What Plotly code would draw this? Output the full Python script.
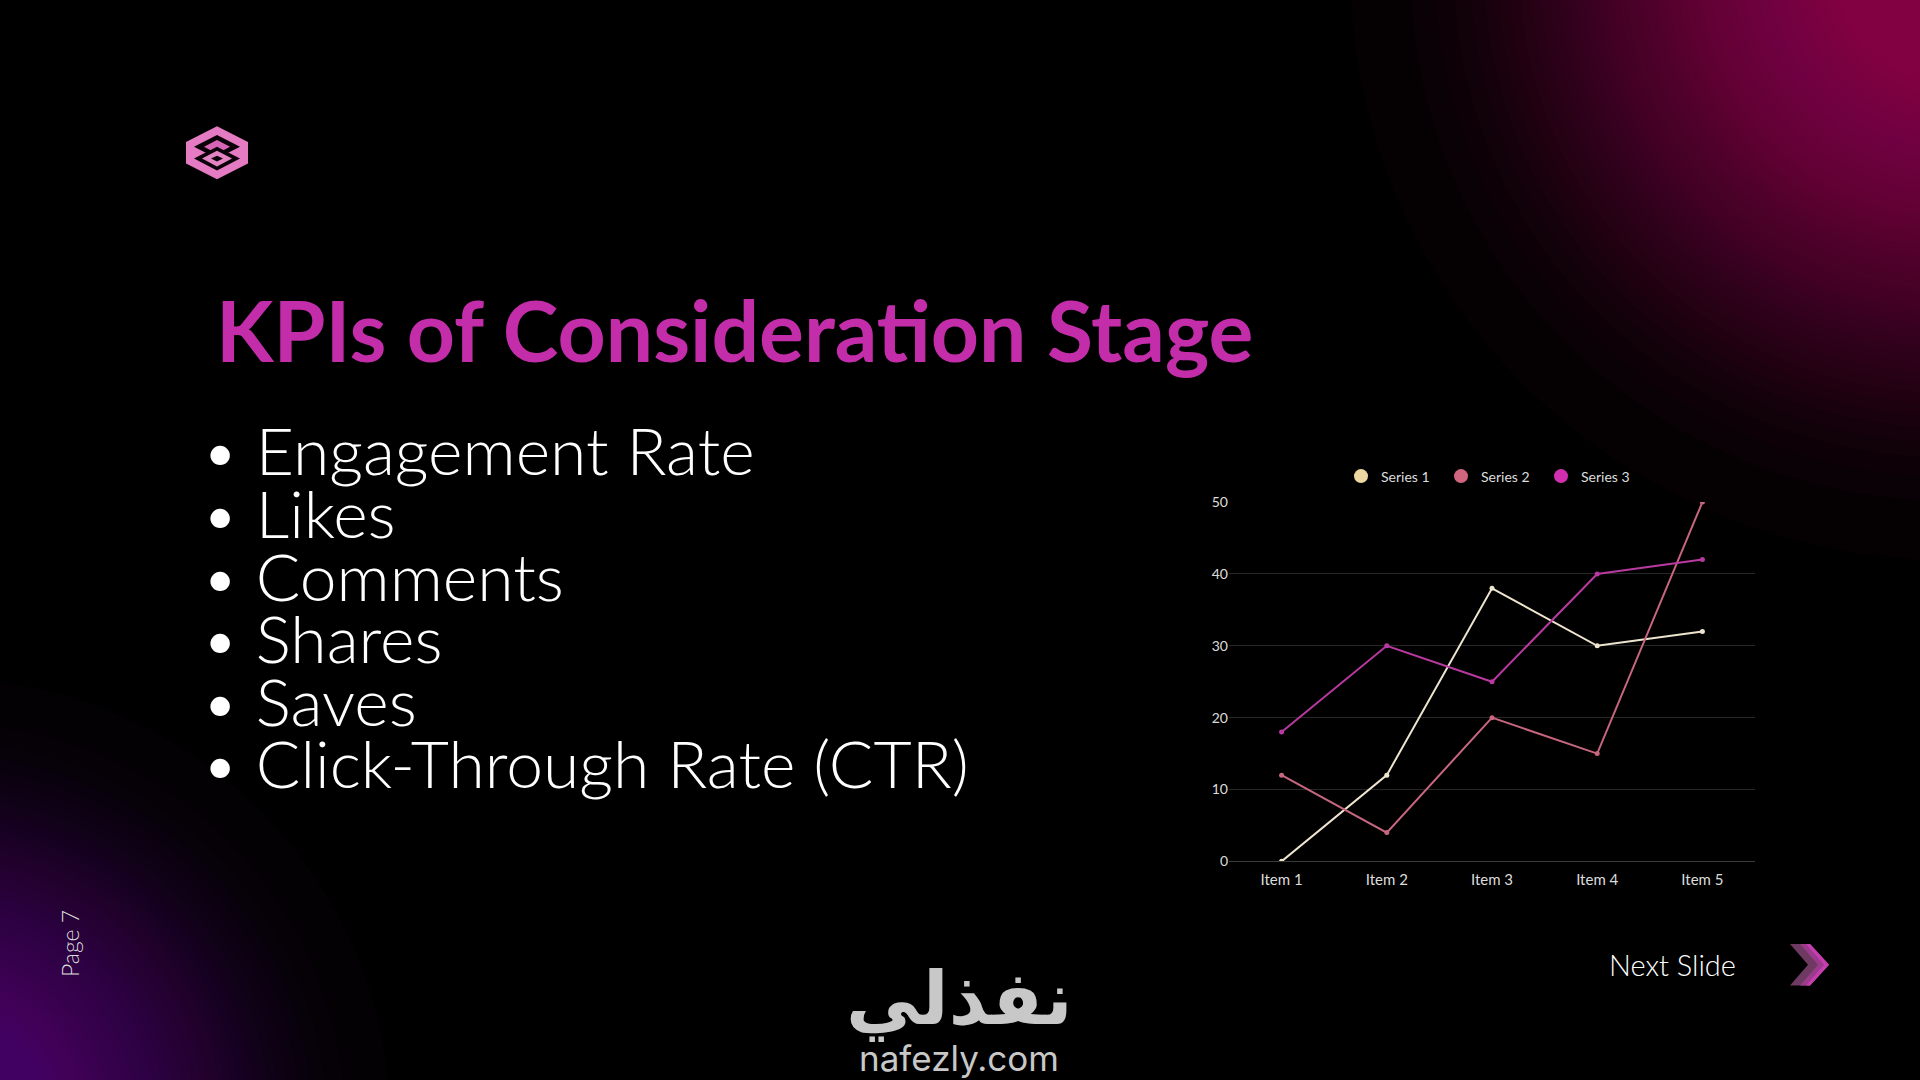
import plotly.graph_objects as go

W, H = 1920, 1080

# chart data
categories = ["Item 1", "Item 2", "Item 3", "Item 4", "Item 5"]
series_names = ["Series 1", "Series 2", "Series 3"]
series_1 = [0, 12, 38, 30, 32]
series_2 = [12, 4, 20, 15, 50]
series_3 = [18, 30, 25, 40, 42]
y_ticks = [0, 10, 20, 30, 40, 50]

# slide text
title_text = "KPIs of Consideration Stage"
bullets = ["Engagement Rate", "Likes", "Comments", "Shares", "Saves",
           "Click-Through Rate (CTR)"]

line_colors = ["#EEE5CF", "#C7667F", "#B8399F"]
legend_colors = ["#EDD7A2", "#D0657F", "#D12FB0"]


def px(x):
    return x / W


def py(y):
    return 1 - y / H


fig = go.Figure()

for name, vals, lc in zip(series_names, [series_1, series_2, series_3], line_colors):
    fig.add_trace(go.Scatter(x=categories, y=vals, mode="lines+markers", name=name,
                             line=dict(color=lc, width=2), marker=dict(size=5, color=lc),
                             showlegend=False))
# legend-only dots
for name, mc in zip(series_names, legend_colors):
    fig.add_trace(go.Scatter(x=[None], y=[None], mode="markers", name=name,
                             marker=dict(size=14, color=mc)))

shapes = []


def glow(cx, cy, rmax, color, n=100, alpha=0.03):
    # radii packed towards the centre so the edge fades out softly
    for i in range(n):
        r = rmax * (1 - (i / n) ** 0.5)
        shapes.append(dict(type="circle", xref="paper", yref="paper", layer="below",
                           x0=px(cx - r), x1=px(cx + r), y0=py(cy + r), y1=py(cy - r),
                           fillcolor=color, opacity=alpha, line=dict(width=0)))


glow(1950, -40, 600, "rgb(150,18,92)")
glow(-60, 1130, 450, "rgb(98,28,136)")

# logo
def poly(pts, color):
    path = "M " + " L ".join(f"{px(x)},{py(y)}" for x, y in pts) + " Z"
    shapes.append(dict(type="path", xref="paper", yref="paper", path=path,
                       fillcolor=color, line=dict(width=0)))


dy = -6
poly([(217, 125 + dy), (248, 141 + dy), (248, 163 + dy), (217, 179 + dy), (186, 163 + dy), (186, 141 + dy)], "#E57BC2")
poly([(217, 134 + dy), (240, 146 + dy), (217, 158 + dy), (194, 146 + dy)], "#0a0208")
poly([(217, 139 + dy), (230, 146 + dy), (217, 153 + dy), (204, 146 + dy)], "#D765B5")
poly([(217, 146 + dy), (240, 158 + dy), (217, 170 + dy), (194, 158 + dy)], "#0a0208")
poly([(217, 150 + dy), (232, 158 + dy), (217, 166 + dy), (202, 158 + dy)], "#E283C4")
poly([(217, 155 + dy), (223, 158 + dy), (217, 161 + dy), (211, 158 + dy)], "#0a0208")

# next slide chevron
cy = 5
poly([(1790, 945 + cy), (1810, 945 + cy), (1829, 966 + cy), (1810, 987 + cy), (1790, 987 + cy), (1808, 966 + cy)], "#6E3A62")
poly([(1800, 945 + cy), (1810, 945 + cy), (1829, 966 + cy), (1810, 987 + cy), (1800, 987 + cy), (1818, 966 + cy)], "#9C3A8C")
poly([(1806, 945 + cy), (1810, 945 + cy), (1829, 966 + cy), (1810, 987 + cy), (1806, 987 + cy), (1824, 966 + cy)], "#C53DAE")

ann = []
ann.append(dict(x=px(214), y=py(326), text=f"<b>{title_text}</b>", xanchor="left", yanchor="middle",
                font=dict(family="Lato, Open Sans", size=84, color="#C42DA9")))
for i, b in enumerate(bullets):
    yc = 448 + i * 63.6
    ann.append(dict(x=px(199), y=py(yc), text="•\u2009\u2009" + b, xanchor="left", yanchor="middle",
                    font=dict(family="Lato", size=66, color="#FFFFFF", weight=300)))
ann.append(dict(x=px(70), y=py(950), text="Page 7", textangle=-90, xanchor="center", yanchor="middle",
                font=dict(family="Lato", size=23, color="#DDDDDD", weight=300)))
ann.append(dict(x=px(1607), y=py(971), text="Next Slide", xanchor="left", yanchor="middle",
                font=dict(family="Lato", size=29, color="#FFFFFF", weight=300)))
ann.append(dict(x=px(959), y=py(1005), text="<b>نفذلي</b>", xanchor="center", yanchor="middle",
                font=dict(family="DejaVu Sans", size=74, color="#C8C8C8")))
ann.append(dict(x=px(959), y=py(1066), text="nafezly.com", xanchor="center", yanchor="middle",
                font=dict(family="Inter, Lato", size=35, color="#C8C8C8")))
for a in ann:
    a.update(xref="paper", yref="paper", showarrow=False)

fig.update_layout(
    width=W, height=H,
    margin=dict(l=0, r=0, t=0, b=0),
    paper_bgcolor="#000000", plot_bgcolor="rgba(0,0,0,0)",
    font=dict(family="Lato", color="#DDDDDD"),
    shapes=shapes, annotations=ann,
    showlegend=True,
    legend=dict(orientation="h", x=px(1341), y=py(475), xanchor="left", yanchor="middle",
                font=dict(size=14, color="#DDDDDD"), bgcolor="rgba(0,0,0,0)",
                entrywidth=55, entrywidthmode="pixels", itemclick=False),
    xaxis=dict(domain=[px(1229), px(1755)], range=[-0.5, 4.5], showgrid=False,
               showline=True, linecolor="#3A3A3A", linewidth=1, ticks="",
               ticklabelstandoff=5,
               tickfont=dict(size=15, color="#DDDDDD"), zeroline=False, fixedrange=True),
    yaxis=dict(domain=[py(866), py(501)], range=[0, 50], tickvals=y_ticks,
               showgrid=True, gridcolor="#262626", gridwidth=1, zeroline=False,
               showline=False, tickfont=dict(size=14, color="#DDDDDD"), fixedrange=True),
)

fig.write_html("out.html", config={"displayModeBar": False},
               post_script="document.body.style.margin='0';")
